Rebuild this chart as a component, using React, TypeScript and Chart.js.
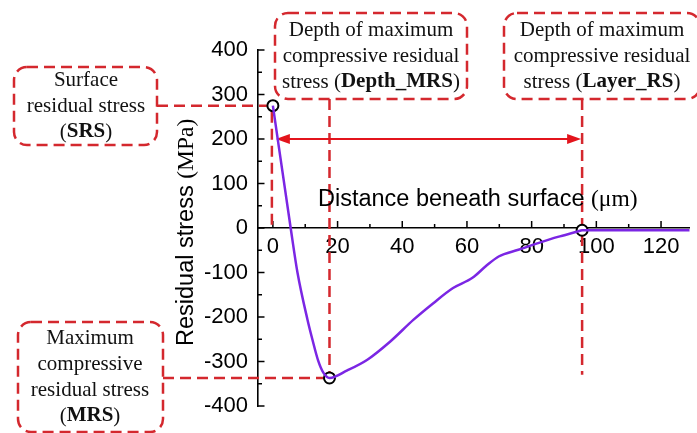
import React, { useEffect, useRef } from 'react';
import { Chart, registerables } from 'chart.js';

Chart.register(...registerables);

// ---- data ----
const depth = [0, 5.5, 7.6, 10.7, 12.2, 14, 15.6, 17.5, 23, 29.2, 36.3, 43.5, 49.6, 55.7, 61.7, 65.8, 69.8, 75.9, 82, 88.1, 94.2, 95.6, 110, 130];
const stress = [275, 0, -100, -206, -250, -298, -325, -337, -320, -296, -255, -206, -169, -135, -112, -86, -64, -49, -34, -20, -8, -5, -5, -5];

// highlighted points: SRS, MRS (at Depth_MRS), Layer_RS
const markerDepth = [0, 17.5, 95.6];
const markerStress = [275, -337, -5];

const xTicks = [0, 20, 40, 60, 80, 100, 120];
const xMinorTicks = [10, 30, 50, 70, 90, 110];
const yTicks = [-400, -300, -200, -100, 0, 100, 200, 300, 400];
const yMinorTicks = [-350, -250, -150, -50, 50, 150, 250, 350];

const arrowLevel = 200;
const layerLineEnd = -330;

const xTitle = 'Distance beneath surface';
const xUnit = '(\u03bcm)';
const yTitle = 'Residual stress';
const yUnit = '(MPa)';

// annotation boxes (layout only)
const notes = [
  { box: [14, 67, 143, 78], cx: 86, ys: [80, 106, 132], lines: ['Surface', 'residual stress', '(**SRS**)'] },
  { box: [275, 13, 192, 86], cx: 371, ys: [30, 56, 82], lines: ['Depth of maximum', 'compressive residual', 'stress (**Depth_MRS**)'] },
  { box: [504, 13, 196, 86], cx: 602, ys: [30, 56, 82], lines: ['Depth of maximum', 'compressive residual', 'stress (**Layer_RS**)'] },
  { box: [18, 322, 145, 110], cx: 90, ys: [338, 364, 390, 416], lines: ['Maximum', 'compressive', 'residual stress', '(**MRS**)'] },
];

const RED_DASH = '#d4282e';
const RED_ARROW = '#e3141c';
const PURPLE = '#7b26e4';
const SERIF = '"Liberation Serif", "Times New Roman", serif';
const SANS = '"Liberation Sans", Arial, sans-serif';

function drawRich(ctx: CanvasRenderingContext2D, text: string, cx: number, cy: number) {
  const parts = text.split('**');
  const segs = parts.map((t, i) => ({ t, bold: i % 2 === 1 })).filter(s => s.t.length > 0);
  const fontFor = (b: boolean) => `${b ? 'bold ' : ''}21px ${SERIF}`;
  let total = 0;
  segs.forEach(s => { ctx.font = fontFor(s.bold); total += ctx.measureText(s.t).width; });
  let x = cx - total / 2;
  ctx.textAlign = 'left';
  ctx.textBaseline = 'middle';
  segs.forEach(s => {
    ctx.font = fontFor(s.bold);
    ctx.fillText(s.t, x, cy);
    x += ctx.measureText(s.t).width;
  });
}

function seg(ctx: CanvasRenderingContext2D, x1: number, y1: number, x2: number, y2: number) {
  ctx.beginPath();
  ctx.moveTo(x1, y1);
  ctx.lineTo(x2, y2);
  ctx.stroke();
}

const annotationPlugin = {
  id: 'annotations',
  beforeDatasetsDraw(chart: any) {
    const { ctx, chartArea } = chart;
    const xs = chart.scales.x;
    const ys = chart.scales.y;
    const left = chartArea.left;
    const zeroY = ys.getPixelForValue(0);
    ctx.save();

    // inward tick marks
    ctx.strokeStyle = '#000';
    ctx.lineWidth = 1.5;
    yTicks.forEach(v => { const p = ys.getPixelForValue(v); seg(ctx, left, p, left + 6.5, p); });
    yMinorTicks.forEach(v => { const p = ys.getPixelForValue(v); seg(ctx, left, p, left + 4, p); });
    xTicks.forEach(v => { const p = xs.getPixelForValue(v); seg(ctx, p, zeroY, p, zeroY - 7); });
    xMinorTicks.forEach(v => { const p = xs.getPixelForValue(v); seg(ctx, p, zeroY, p, zeroY - 4); });

    // marker pixels
    const m = markerDepth.map((d, i) => ({ x: xs.getPixelForValue(d), y: ys.getPixelForValue(markerStress[i]) }));

    // dashed guide lines
    ctx.strokeStyle = RED_DASH;
    ctx.lineWidth = 2.5;
    ctx.setLineDash([11, 6]);
    const srsBox = notes[0].box;
    const mrsBox = notes[3].box;
    const depthBox = notes[1].box;
    const layerBox = notes[2].box;
    seg(ctx, srsBox[0] + srsBox[2], m[0].y, m[0].x - 6, m[0].y);
    seg(ctx, m[0].x - 1, m[0].y + 6, m[0].x - 1, zeroY);
    seg(ctx, m[1].x, depthBox[1] + depthBox[3], m[1].x, m[1].y - 6);
    seg(ctx, mrsBox[0] + mrsBox[2], m[1].y, m[1].x - 6, m[1].y);
    seg(ctx, m[2].x, layerBox[1] + layerBox[3], m[2].x, ys.getPixelForValue(layerLineEnd));

    // boxes
    notes.forEach(n => {
      const [bx, by, bw, bh] = n.box;
      ctx.beginPath();
      ctx.roundRect(bx, by, bw, bh, 13);
      ctx.stroke();
    });
    ctx.setLineDash([]);

    // double arrow at 200 MPa
    const ay = ys.getPixelForValue(arrowLevel);
    const ax1 = m[0].x + 3;
    const ax2 = m[2].x - 1;
    ctx.strokeStyle = RED_ARROW;
    ctx.fillStyle = RED_ARROW;
    ctx.lineWidth = 2;
    seg(ctx, ax1 + 8, ay, ax2 - 8, ay);
    ctx.beginPath();
    ctx.moveTo(ax1, ay); ctx.lineTo(ax1 + 14, ay - 5); ctx.lineTo(ax1 + 14, ay + 5); ctx.closePath(); ctx.fill();
    ctx.beginPath();
    ctx.moveTo(ax2, ay); ctx.lineTo(ax2 - 14, ay - 5); ctx.lineTo(ax2 - 14, ay + 5); ctx.closePath(); ctx.fill();

    // box texts
    ctx.fillStyle = '#111';
    notes.forEach(n => n.lines.forEach((ln, i) => drawRich(ctx, ln, n.cx, n.ys[i])));

    // axis titles
    ctx.fillStyle = '#000';
    ctx.textAlign = 'left';
    ctx.textBaseline = 'alphabetic';
    ctx.font = `23.5px ${SANS}`;
    const xt = xTitle + ' ';
    ctx.fillText(xt, 318, 206);
    const xw = ctx.measureText(xt).width;
    ctx.font = `23.5px ${SERIF}`;
    ctx.fillText(xUnit, 318 + xw, 206);

    ctx.save();
    ctx.translate(193, 346);
    ctx.rotate(-Math.PI / 2);
    ctx.font = `23.5px ${SANS}`;
    const yt = yTitle + ' ';
    ctx.fillText(yt, 0, 0);
    const yw = ctx.measureText(yt).width;
    ctx.font = `23.5px ${SERIF}`;
    ctx.fillText(yUnit, yw, 0);
    ctx.restore();

    ctx.restore();
  },
};

export default function App() {
  const ref = useRef<HTMLCanvasElement | null>(null);
  useEffect(() => {
    if (!ref.current) return;
    const chart = new Chart(ref.current, {
      type: 'line',
      data: {
        datasets: [
          {
            data: depth.map((d, i) => ({ x: d, y: stress[i] })),
            borderColor: PURPLE,
            borderWidth: 2.5,
            pointRadius: 0,
            fill: false,
            cubicInterpolationMode: 'monotone',
          } as any,
          {
            type: 'scatter',
            data: markerDepth.map((d, i) => ({ x: d, y: markerStress[i] })),
            pointRadius: 5.5,
            pointBackgroundColor: '#fff',
            pointBorderColor: '#000',
            pointBorderWidth: 2,
            showLine: false,
          } as any,
        ],
      },
      options: {
        animation: false,
        responsive: false,
        devicePixelRatio: 1,
        layout: { padding: { left: 179, top: 50, right: 0, bottom: 27 } },
        plugins: { legend: { display: false }, tooltip: { enabled: false } },
        scales: {
          x: {
            type: 'linear',
            min: -4.6,
            max: 128.8,
            position: { y: 0 } as any,
            grid: { display: false, drawTicks: false },
            border: { display: true, color: '#000', width: 1.6 },
            ticks: {
              autoSkip: false,
              maxRotation: 0,
              padding: 6,
              color: '#000',
              font: { family: SANS, size: 22 },
              callback: (v: any) => String(v),
            },
            afterBuildTicks: (s: any) => { s.ticks = xTicks.map(v => ({ value: v })); },
            afterFit: (s: any) => { s.paddingLeft = 0; s.paddingRight = 0; },
          },
          y: {
            type: 'linear',
            min: -400,
            max: 400,
            grid: { display: false, drawTicks: false },
            border: { display: true, color: '#000', width: 1.6 },
            ticks: {
              autoSkip: false,
              padding: 10,
              color: '#000',
              font: { family: SANS, size: 22 },
              callback: (v: any) => String(v),
            },
            afterBuildTicks: (s: any) => { s.ticks = yTicks.map(v => ({ value: v })); },
            afterFit: (s: any) => { s.width = 79; },
          },
        },
      },
      plugins: [annotationPlugin],
    } as any);
    return () => chart.destroy();
  }, []);
  return (
    <div style={{ position: 'fixed', left: 0, top: 0, width: 697, height: 433, background: '#fff' }}>
      <canvas ref={ref} width={697} height={433} style={{ display: 'block' }} />
    </div>
  );
}
